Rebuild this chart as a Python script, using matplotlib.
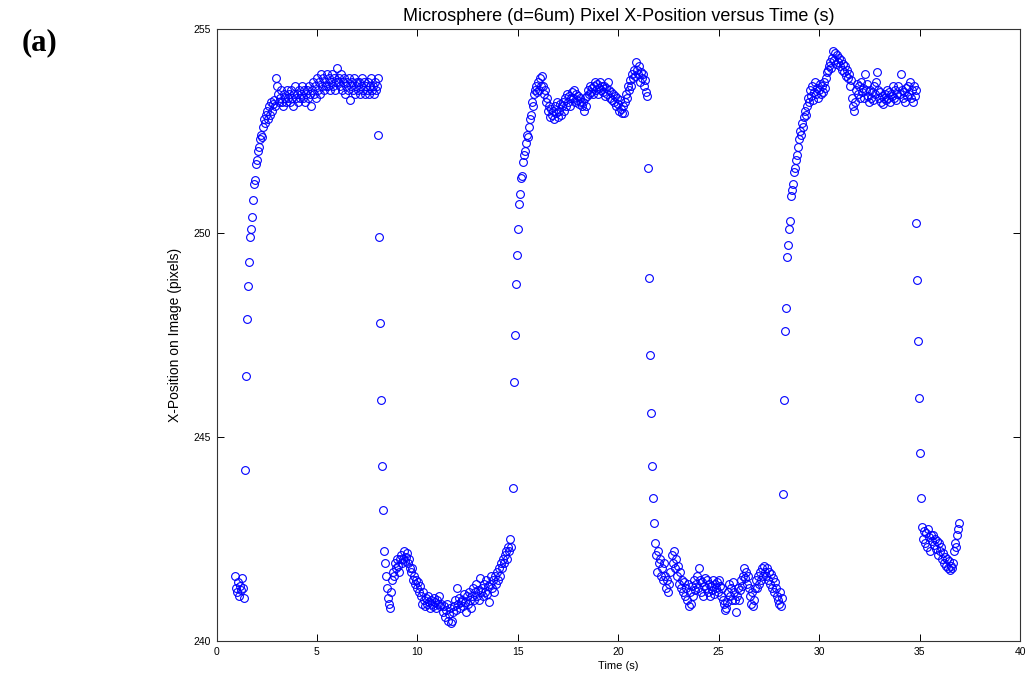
import matplotlib
matplotlib.use("Agg")
import matplotlib.pyplot as plt
import numpy as np

# Frame interval of the tracking video (s)
DT = 0.05

# Tracked x-position (pixels) per frame, grouped by stretch; each entry is (start time, values)
rest_start = (0.90, [241.6, 241.3, 241.2, 241.45, 241.1, 241.35, 241.25, 241.55, 241.3, 241.05])

rise_1 = (1.40, [244.2, 246.5, 247.9, 248.7, 249.3, 249.9, 250.1, 250.4, 250.8, 251.2,
                 251.3, 251.7, 251.8, 252.0, 252.1, 252.3, 252.4, 252.35, 252.6, 252.8,
                 252.7, 252.9, 253.0, 252.8, 253.1, 252.9, 253.2, 253.0, 253.15, 253.25,
                 253.1, 253.8, 253.6])

high_1 = (3.05, [253.4, 253.2, 253.3, 253.5, 253.2, 253.1, 253.4, 253.3, 253.2, 253.5,
                 253.3, 253.4, 253.2, 253.5, 253.3, 253.1, 253.4, 253.6, 253.3, 253.4,
                 253.2, 253.5, 253.3, 253.4, 253.6, 253.3, 253.5, 253.2, 253.4, 253.5,
                 253.3, 253.6, 253.4, 253.1, 253.5, 253.7, 253.4, 253.6, 253.3, 253.8,
                 253.5, 253.7, 253.4, 253.9, 253.6, 253.8, 253.5, 253.7, 253.6, 253.9,
                 253.6, 253.8, 253.5, 253.7, 253.9, 253.6, 253.8, 253.5, 253.7, 254.05,
                 253.7, 253.8, 253.6, 253.9, 253.5, 253.7, 253.8, 253.4, 253.6, 253.7,
                 253.5, 253.8, 253.25, 253.6, 253.7, 253.5, 253.8, 253.4, 253.6, 253.7,
                 253.5, 253.7, 253.4, 253.6, 253.8, 253.5, 253.7, 253.4, 253.6, 253.5,
                 253.7, 253.4, 253.6, 253.8, 253.5, 253.6, 253.4, 253.7, 253.5, 253.6,
                 253.8])

fall_1 = (8.05, [252.4, 249.9, 247.8, 245.9, 244.3, 243.2, 242.2])

low_1 = (8.40, [241.9, 241.6, 241.3, 241.05, 240.9, 240.8,
                241.2, 241.5, 241.7, 241.6, 241.9, 241.8, 242.0, 241.85, 241.7, 242.0,
                242.1, 241.9, 242.0, 242.2, 241.95, 242.05, 242.15, 241.9, 242.0, 241.8,
                241.7, 241.8, 241.5, 241.6, 241.4, 241.5, 241.3, 241.45, 241.2, 241.35,
                241.1, 240.9, 241.2, 241.0, 240.85, 241.05, 240.9, 241.1, 240.95, 240.8,
                241.0, 240.9, 240.85, 241.05, 240.95, 240.8, 241.0, 240.9, 241.1, 240.85,
                240.9, 240.7, 240.85, 240.6, 240.75, 240.9, 240.5, 240.65, 240.8, 240.45,
                240.5, 240.7, 240.85, 241.0, 240.75, 241.3, 240.9, 241.05, 240.8, 240.95,
                241.0, 240.85, 241.15, 240.95, 240.7, 241.1, 240.9, 241.2, 241.0, 240.8,
                241.1, 241.3, 241.0, 241.2, 241.4, 241.1, 241.25, 241.0, 241.55, 241.2,
                241.3, 241.1, 241.4, 241.2, 241.5, 241.15, 241.35, 240.95, 241.4, 241.6,
                241.3, 241.5, 241.2, 241.6, 241.4, 241.7, 241.5, 241.8, 241.6, 241.9,
                241.8, 242.0, 241.9, 242.1, 242.2, 242.0, 242.3, 242.2, 242.5, 242.3])

rise_2 = (14.75, [243.75, 246.35, 247.5, 248.75, 249.45, 250.1, 250.7, 250.95, 251.35, 251.4,
                  251.75, 251.9, 252.0, 252.2, 252.4, 252.35, 252.6, 252.8, 252.9, 253.2,
                  253.1, 253.4, 253.5, 253.6, 253.45, 253.7, 253.5, 253.8, 253.6, 253.85])

high_2 = (16.25, [253.6, 253.4, 253.5, 253.2, 253.3, 253.0, 253.1, 252.85, 253.05, 252.9,
                  253.0, 252.8, 253.1, 252.95, 253.2, 252.85, 253.0, 253.15, 252.9, 253.1,
                  253.2, 253.0, 253.3, 253.1, 253.4, 253.2, 253.35, 253.1, 253.3, 253.45,
                  253.3, 253.5, 253.2, 253.4, 253.25, 253.35, 253.15, 253.3, 253.2, 253.1,
                  253.2, 253.0, 253.3, 253.1, 253.35, 253.5, 253.4, 253.6, 253.45, 253.55,
                  253.4, 253.6, 253.7, 253.5, 253.65, 253.4, 253.55, 253.7, 253.5, 253.6,
                  253.45, 253.6, 253.35, 253.55, 253.4, 253.7, 253.5, 253.3, 253.45, 253.25,
                  253.4, 253.2, 253.35, 253.1, 253.3, 253.15, 253.0, 253.25, 253.05, 252.95,
                  253.1, 252.95, 253.2, 253.4, 253.3, 253.6, 253.5, 253.75, 253.6, 253.9,
                  253.8, 254.0, 253.85, 254.2, 254.0, 253.9, 254.1, 253.7, 253.95, 253.8,
                  253.9, 253.6, 253.75, 253.45, 253.35])

fall_2 = (21.50, [251.6, 248.9, 247.0, 245.6, 244.3, 243.5, 242.9])

low_2 = (21.85, [242.4, 242.1, 241.7, 242.2, 241.9, 242.0, 241.6, 241.8, 241.5, 241.9,
                 241.6, 241.3, 241.5, 241.2, 241.4, 241.7, 242.1, 241.9, 242.2, 241.8,
                 242.0, 241.6, 241.85, 241.4, 241.7, 241.3, 241.5, 241.2, 241.45, 241.1,
                 241.3, 241.0, 241.4, 240.85, 241.2, 240.9, 241.35, 241.1, 241.5, 241.25,
                 241.4, 241.6, 241.3, 241.8, 241.5, 241.2, 241.45, 241.1, 241.35, 241.55,
                 241.3, 241.5, 241.2, 241.4, 241.1, 241.35, 241.25, 241.5, 241.15, 241.4,
                 241.3, 241.45, 241.2, 241.5, 241.35, 241.1, 241.3, 241.0, 240.9, 240.75,
                 240.8, 240.95, 241.2, 241.4, 241.1, 241.3, 241.0, 241.45, 241.2, 241.0,
                 240.7, 241.1, 241.3, 241.0, 241.25, 241.5, 241.35, 241.6, 241.8, 241.55,
                 241.7, 241.4, 241.6, 241.3, 241.1, 240.9, 241.2, 240.85, 241.0, 241.3,
                 241.5, 241.3, 241.6, 241.4, 241.7, 241.5, 241.8, 241.6, 241.85, 241.7,
                 241.6, 241.8, 241.5, 241.7, 241.4, 241.65, 241.3, 241.55, 241.2, 241.45,
                 241.3, 241.1, 241.0, 240.9, 241.2, 240.85, 241.05])

rise_3 = (28.20, [243.6, 245.9, 247.6, 248.15, 249.4, 249.7, 250.1, 250.3, 250.9, 251.05,
                  251.2, 251.5, 251.6, 251.8, 251.9, 252.1, 252.3, 252.5, 252.4, 252.7,
                  252.6, 252.85, 253.0, 252.9, 253.1])

high_3 = (29.45, [253.3, 253.2, 253.5, 253.35, 253.6, 253.25, 253.45, 253.7, 253.4, 253.55,
                  253.3, 253.5, 253.65, 253.4, 253.6, 253.45, 253.7, 253.55, 253.8, 253.95,
                  254.0, 254.1, 254.2, 254.05, 254.3, 254.45, 254.25, 254.4, 254.15, 254.35,
                  254.2, 254.3, 254.1, 254.25, 254.0, 254.15, 253.95, 254.1, 253.85, 254.0,
                  253.8, 253.9, 253.6, 253.75, 253.3, 253.1, 253.0, 253.2, 253.5, 253.65,
                  253.4, 253.6, 253.3, 253.7, 253.45, 253.55, 253.3, 253.9, 253.5, 253.65,
                  253.35, 253.2, 253.5, 253.3, 253.45, 253.25, 253.6, 253.4, 253.7, 253.95,
                  253.5, 253.3, 253.45, 253.2, 253.35, 253.15, 253.3, 253.4, 253.25, 253.5,
                  253.3, 253.45, 253.2, 253.4, 253.35, 253.6, 253.3, 253.5, 253.25, 253.4,
                  253.6, 253.4, 253.9, 253.5, 253.3, 253.45, 253.2, 253.55, 253.35, 253.6,
                  253.4, 253.7, 253.3, 253.5, 253.2, 253.6, 253.35, 253.5])

fall_3 = (34.80, [250.25, 248.85, 247.35, 245.95, 244.6, 243.5, 242.8])

low_3 = (35.15, [242.5, 242.7, 242.4, 242.65, 242.3, 242.75, 242.55, 242.2, 242.6, 242.45,
                 242.6, 242.35, 242.5, 242.25, 242.45, 242.1, 242.4, 242.2, 242.3, 242.0,
                 242.15, 241.9, 242.05, 241.85, 242.0, 241.8, 241.95, 241.75, 241.85, 241.8,
                 241.9, 242.2, 242.4, 242.3, 242.6, 242.75, 242.9])

segments = [rest_start, rise_1, high_1, fall_1, low_1, rise_2, high_2, fall_2,
            low_2, rise_3, high_3, fall_3, low_3]

time_s = np.concatenate([t0 + DT * np.arange(len(v)) for t0, v in segments])
x_pos = np.concatenate([np.asarray(v, dtype=float) for _, v in segments])

plt.rcParams["font.family"] = ["Liberation Sans", "DejaVu Sans"]

fig = plt.figure(figsize=(10.32, 6.77), dpi=100)
ax = fig.add_axes([0.2098, 0.0532, 0.7786, 0.904])

ax.plot(time_s, x_pos, linestyle="none", marker="o", markersize=5.6,
        markerfacecolor="none", markeredgecolor="#0000ff", markeredgewidth=0.8)

ax.set_xlim(0, 40)
ax.set_ylim(240, 255)
ax.set_xticks([0, 5, 10, 15, 20, 25, 30, 35, 40])
ax.set_yticks([240, 245, 250, 255])
ax.tick_params(direction="in", length=5, width=0.7, top=True, right=True,
               labelsize=7.5, pad=4, colors="black")
for sp in ax.spines.values():
    sp.set_linewidth(0.8)
    sp.set_color("#333333")

ax.set_title("Microsphere (d=6um) Pixel X-Position versus Time (s)", fontsize=13, pad=6)
ax.set_xlabel("Time (s)", fontsize=8, labelpad=3)
ax.set_ylabel("X-Position on Image (pixels)", fontsize=10, labelpad=8)

fig.text(0.021, 0.958, "(a)", family=["Liberation Serif", "DejaVu Serif"],
         fontweight="bold", fontsize=22, va="top", ha="left")

fig.savefig("out.png", dpi=100)
